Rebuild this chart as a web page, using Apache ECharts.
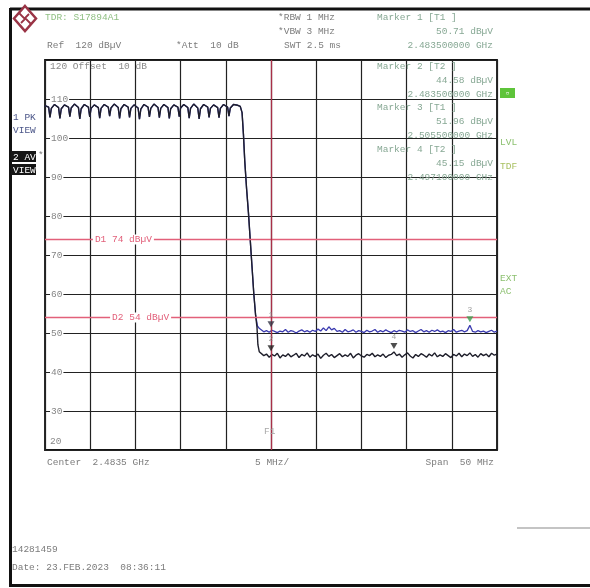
<!DOCTYPE html>
<html><head><meta charset="utf-8">
<script src="https://cdn.jsdelivr.net/npm/echarts@6/dist/echarts.min.js"></script>
<style>html,body{margin:0;padding:0;background:#fff}#c{width:590px;height:588px}</style>
</head><body><div id="c"></div>
<script>
// ---- axis settings (MHz offset from start frequency 2.4585 GHz, span 50 MHz) ----
const yTicks = [20, 30, 40, 50, 60, 70, 80, 90, 100, 110, 120];
const displayLines = [74, 54];            // D1, D2 in dBµV
const displayLineNames = ['D1', 'D2'];
const f1OffsetMHz = 25;                    // F1 = 2.4835 GHz

// ---- in-band part (shared by both traces) ----
const inbandFreqMHz = [0.0,
 0.4,0.55,0.7,1.05, 1.5,1.65,1.8,2.15, 2.6,2.75,2.9,3.25, 3.7,3.85,4.0,4.35,
 4.8,4.95,5.1,5.45, 5.9,6.05,6.2,6.55, 7.0,7.15,7.3,7.65, 8.1,8.25,8.4,8.75,
 9.2,9.35,9.5,9.85, 10.3,10.45,10.6,10.95, 11.4,11.55,11.7,12.05, 12.5,12.65,12.8,13.15,
 13.6,13.75,13.9,14.25, 14.7,14.85,15.0,15.35, 15.8,15.95,16.1,16.45, 16.9,17.05,17.2,17.55,
 18.0,18.15,18.3,18.65, 19.1,19.25,19.4,19.75, 20.2,20.35,20.5,20.85, 21.3,21.6];
const inbandLevel = [108.3,
 107.9,105.3,107.6,108.6, 107.8,105.0,107.5,108.5, 107.9,105.5,107.7,108.7, 107.8,104.9,107.5,108.6,
 107.9,105.4,107.6,108.5, 107.8,105.1,107.6,108.6, 107.9,105.6,107.7,108.7, 107.8,105.0,107.5,108.6,
 107.9,105.3,107.6,108.5, 107.7,104.8,107.4,108.6, 107.9,105.4,107.6,108.7, 107.8,105.2,107.6,108.6,
 107.8,105.0,107.5,108.5, 107.9,105.5,107.7,108.6, 107.8,105.1,107.6,108.7, 107.7,104.9,107.5,108.6,
 107.9,105.3,107.6,108.5, 107.8,105.2,107.6,108.6, 107.9,105.6,107.7,108.6, 108.4,108.1];

// ---- band-edge fall ----
const pkEdgeFreqMHz = [21.8,21.95,22.1,22.3,22.5,22.7,22.9,23.1,23.3,23.5,23.7];
const pkEdgeLevel   = [106.5,101,94,87,81,74,67,60,54.5,51.8,51.2];
const avEdgeFreqMHz = [21.8,21.95,22.1,22.3,22.5,22.7,22.9,23.1,23.3,23.45,23.55,23.7];
const avEdgeLevel   = [106.5,101,94,87,81,74,67,60,54.5,51.5,47.0,45.2];

// ---- out-of-band noise floor ----
const noiseFreqMHz = [23.9,24.2,24.5,24.8,25.1,25.4,25.7,26.0,26.3,26.6,26.9,27.2,27.5,27.8,28.1,28.4,28.7,29.0,29.3,29.6,
 29.9,30.2,30.5,30.8,31.1,31.4,31.7,32.0,32.3,32.6,32.9,33.2,33.5,33.8,34.1,34.4,34.7,35.0,35.3,35.6,
 35.9,36.2,36.5,36.8,37.1,37.4,37.7,38.0,38.3,38.6,38.9,39.2,39.5,39.8,40.1,40.4,40.7,41.0,41.3,41.6,
 41.9,42.2,42.5,42.8,43.1,43.4,43.7,44.0,44.3,44.6,44.9,45.2,45.5,45.8,46.1,46.4,46.7,47.0,47.3,47.6,
 47.9,48.2,48.5,48.8,49.1,49.4,49.7,50.0];
const pkNoise = [50.8,50.3,50.6,50.2,50.7,50.4,50.1,50.5,50.3,50.9,
 50.2,50.6,50.4,50.0,50.5,50.8,50.3,50.6,50.2,50.7,
 50.4,51.0,50.5,51.3,50.6,51.6,50.8,51.2,50.4,50.6,
 50.2,50.9,50.3,50.5,50.8,50.2,50.6,50.4,50.1,50.7,
 50.3,50.5,50.9,50.2,50.6,50.3,50.8,50.4,50.1,50.6,
 50.3,50.7,50.5,50.2,50.8,50.4,50.6,50.1,50.5,50.9,
 50.3,50.6,50.2,50.7,50.4,50.8,50.3,50.5,50.1,50.6,
 50.4,50.9,50.2,50.5,50.7,50.3,50.6,51.96,
 50.4,50.2,50.6,50.3,50.5,50.1,50.4,50.7,50.2,50.5];
const avNoise = [44.9,44.2,44.6,43.8,44.5,44.1,44.8,43.6,44.4,44.0,
 44.7,43.9,44.3,44.8,43.7,44.5,44.1,44.9,43.8,44.4,
 44.0,44.6,43.5,44.3,44.8,44.0,44.5,43.7,44.2,44.7,
 43.9,44.4,44.0,44.8,43.6,44.3,44.7,44.1,43.8,44.5,
 44.2,44.8,43.9,44.4,44.0,44.6,43.7,44.3,44.5,45.15,
 44.2,44.6,43.8,44.4,44.9,44.1,43.6,44.5,44.0,44.7,
 44.3,43.8,44.6,44.1,44.9,43.9,44.4,44.0,44.7,44.2,
 43.7,44.5,44.1,44.8,43.9,44.6,44.2,44.9,44.0,44.5,
 43.8,44.7,44.2,44.6,43.9,44.8,44.3,44.6];

// ---- markers ----
const markerIds      = ['1', '2', '3', '4'];
const markerFreqMHz  = [25.0, 25.0, 47.0, 38.6];
const markerLevel    = [50.71, 44.58, 51.96, 45.15];
const markerTraces   = ['T1', 'T2', 'T1', 'T2'];
const markerFreqText = ['2.483500000 GHz', '2.483500000 GHz', '2.505500000 GHz', '2.497100000 GHz'];

function pairs(fs, vs) { const o = []; for (let i = 0; i < Math.min(fs.length, vs.length); i++) o.push([fs[i], vs[i]]); return o; }
const inband = pairs(inbandFreqMHz, inbandLevel);
const pkData = inband.concat(pairs(pkEdgeFreqMHz, pkEdgeLevel), pairs(noiseFreqMHz, pkNoise));
const avData = inband.concat(pairs(avEdgeFreqMHz, avEdgeLevel), pairs(noiseFreqMHz, avNoise));

const FONT = 'Liberation Mono';
const GREY = '#7c7c7c', MK = '#87a894', GRN = '#8cc070';
const markerColors = ['#333344', '#222222', '#3aa050', '#222222'];

const chart = echarts.init(document.getElementById('c'), null, { renderer: 'canvas' });

function txt(x, y, s, fill, align, extra) {
  return Object.assign({ type: 'text', silent: true, z: 50,
    style: { x: x, y: y, text: s, fill: fill || GREY, fontSize: 9.5, fontFamily: FONT,
      textAlign: align || 'left', textVerticalAlign: 'middle' } }, extra || {});
}

const option = {
  animation: false,
  backgroundColor: '#fff',
  grid: { left: 45, top: 60, width: 452, height: 390, show: true, borderColor: '#151515', borderWidth: 1.8, backgroundColor: 'transparent' },
  xAxis: { type: 'value', min: 0, max: 50, interval: 5,
    axisLine: { show: false }, axisTick: { show: false }, axisLabel: { show: false },
    splitLine: { show: true, lineStyle: { color: '#222', width: 1.2 } } },
  yAxis: { type: 'value', min: yTicks[0], max: yTicks[yTicks.length - 1], interval: 10,
    axisLine: { show: false }, axisTick: { show: false },
    splitLine: { show: true, lineStyle: { color: '#222', width: 1.2 } },
    axisLabel: { inside: true, margin: 5, color: '#858585', fontSize: 9.5, fontFamily: FONT,
      backgroundColor: '#fff', padding: [0, 1, 0, 1],
      formatter: v => (v === yTicks[0] || v === yTicks[yTicks.length - 1]) ? '' : String(v) } },
  series: [
    { name: 'PK', type: 'line', data: pkData, showSymbol: false, z: 3,
      lineStyle: { color: '#3b3bb0', width: 1.3 },
      markLine: { silent: true, symbol: 'none', animation: false, label: { show: false },
        data: [
          { yAxis: displayLines[0], lineStyle: { color: '#e2607a', width: 1.4, type: 'solid' } },
          { yAxis: displayLines[1], lineStyle: { color: '#e2607a', width: 1.4, type: 'solid' } },
          { xAxis: f1OffsetMHz, lineStyle: { color: '#a83048', width: 1.3, type: 'solid' } }
        ] } },
    { name: 'AV', type: 'line', data: avData, showSymbol: false, z: 4,
      lineStyle: { color: '#1e1e2a', width: 1.4 } },
    { name: 'Markers', type: 'scatter', z: 6,
      data: markerFreqMHz.map((f, i) => ({ value: [f, markerLevel[i]], itemStyle: { color: markerColors[i] } })),
      symbol: 'triangle', symbolRotate: 180, symbolSize: [7, 6], symbolOffset: [0, -6],
      label: { show: true, position: 'top', distance: 2, formatter: p => markerIds[p.dataIndex],
        color: '#888', fontSize: 8, fontFamily: FONT } }
  ],
  graphic: []
};
chart.setOption(option);

// ---------- static annotation text ----------
const g = [];
// outer frame
g.push({ type: 'line', silent: true, shape: { x1: 10, y1: 9, x2: 590, y2: 9 }, style: { stroke: '#111', lineWidth: 3 } });
g.push({ type: 'line', silent: true, shape: { x1: 10.5, y1: 8, x2: 10.5, y2: 587 }, style: { stroke: '#111', lineWidth: 3 } });
g.push({ type: 'line', silent: true, shape: { x1: 10, y1: 585.5, x2: 590, y2: 585.5 }, style: { stroke: '#111', lineWidth: 3 } });
g.push({ type: 'line', silent: true, shape: { x1: 517, y1: 528, x2: 590, y2: 528 }, style: { stroke: '#8a8a8a', lineWidth: 1.2 } });
// logo
g.push({ type: 'polygon', silent: true, shape: { points: [[25, 6], [36, 18.5], [25, 31], [14, 18.5]] }, style: { fill: '#fff', stroke: '#9a3446', lineWidth: 2.5 } });
g.push({ type: 'polyline', silent: true, shape: { points: [[19, 13], [25, 19], [21, 23]] }, style: { fill: 'none', stroke: '#9a3446', lineWidth: 1.8 } });
g.push({ type: 'polyline', silent: true, shape: { points: [[31, 24], [25, 18], [29, 14]] }, style: { fill: 'none', stroke: '#9a3446', lineWidth: 1.8 } });
// header
g.push(txt(45, 17, 'TDR: S17894A1', '#8fbf82'));
g.push(txt(278, 17, '*RBW 1 MHz'));
g.push(txt(278, 31, '*VBW 3 MHz'));
g.push(txt(284, 45, 'SWT 2.5 ms'));
g.push(txt(47, 45, 'Ref  120 dBµV'));
g.push(txt(176, 45, '*Att  10 dB'));
g.push(txt(50, 66, '120 Offset  10 dB', '#8a8a8a'));
g.push(txt(50, 441, '20', '#8a8a8a'));
// marker block
const mkY = [17, 66, 107, 149];
for (let i = 0; i < markerIds.length; i++) {
  g.push(txt(377, mkY[i], 'Marker ' + markerIds[i] + ' [' + markerTraces[i] + ' ]', MK));
  g.push(txt(493, mkY[i] + 14, markerLevel[i].toFixed(2) + ' dBµV', MK, 'right'));
  g.push(txt(493, mkY[i] + 28, markerFreqText[i], MK, 'right'));
}
// left side trace labels
g.push(txt(13, 117, '1 PK', '#4a5588'));
g.push(txt(13, 130, 'VIEW', '#4a5588'));
g.push({ type: 'rect', silent: true, shape: { x: 11, y: 151, width: 25, height: 11 }, style: { fill: '#151515' } });
g.push({ type: 'rect', silent: true, shape: { x: 11, y: 164, width: 25, height: 11 }, style: { fill: '#151515' } });
g.push(txt(13, 157, '2 AV', '#fff'));
g.push(txt(13, 170, 'VIEW', '#fff'));
g.push(txt(38, 155, '*', GREY));
// right side status labels
g.push({ type: 'rect', silent: true, shape: { x: 500, y: 88, width: 15, height: 10 }, style: { fill: '#5ec43a' } });
g.push(txt(507.5, 93, '▫', '#fff', 'center'));
g.push(txt(500, 142, 'LVL', GRN));
g.push(txt(500, 166, 'TDF', '#a8c060'));
g.push(txt(500, 278, 'EXT', GRN));
g.push(txt(500, 291, 'AC', GRN));
// frequency axis captions
g.push(txt(47, 462, 'Center  2.4835 GHz'));
g.push(txt(255, 462, '5 MHz/'));
g.push(txt(494, 462, 'Span  50 MHz', GREY, 'right'));
// footer
g.push(txt(12, 549, '14281459'));
g.push(txt(12, 567, 'Date: 23.FEB.2023  08:36:11'));

// display line labels positioned through the chart's scales
const dLabelStart = [5.3, 7.2]; // MHz offset where label begins
for (let i = 0; i < displayLines.length; i++) {
  const p = chart.convertToPixel({ seriesIndex: 0 }, [dLabelStart[i], displayLines[i]]);
  g.push(txt(p[0], p[1], '', '#e2607a', 'left',
    { style: { x: p[0], y: p[1], text: displayLineNames[i] + ' ' + displayLines[i] + ' dBµV', fill: '#e2607a', fontSize: 9.5, fontFamily: FONT,
      textAlign: 'left', textVerticalAlign: 'middle', backgroundColor: '#fff', padding: [0, 2, 0, 2] } }));
}
const pf = chart.convertToPixel({ seriesIndex: 0 }, [f1OffsetMHz, yTicks[0]]);
g.push(txt(pf[0] - 7, pf[1] - 19, 'F1', '#a8a8a8'));

chart.setOption({ graphic: g });
</script>
</body></html>
